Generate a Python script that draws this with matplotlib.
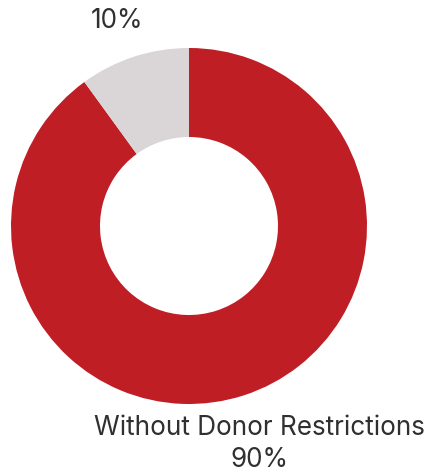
import matplotlib
matplotlib.use("Agg")
import matplotlib.pyplot as plt

labels = ["Without Donor Restrictions", ""]
shares = [90, 10]
colors = ["#C01E25", "#DAD5D6"]

fig = plt.figure(figsize=(4.29, 4.72), dpi=100)
# axes sized so the ring sits left of centre with room for the labels
ax = fig.add_axes([11 / 429, (472 - 226 - 178) / 472, 356 / 429, 356 / 472])
ax.pie(shares, colors=colors, startangle=90, counterclock=False,
       radius=1.0, wedgeprops=dict(width=0.5, linewidth=0))
ax.set_xlim(-1, 1)
ax.set_ylim(-1, 1)
ax.set_aspect("equal")
ax.axis("off")

font = ["Inter", "DejaVu Sans"]
style = dict(ha="center", va="center", fontsize=18.8, color="#303030",
             family=font, clip_on=False)
ax.text(-0.405, 1.15, f"{shares[1]}%", **style)
ax.text(0.395, -1.135, labels[0], **style)
ax.text(0.395, -1.315, f"{shares[0]}%", **style)

fig.savefig("out.png", dpi=100)
